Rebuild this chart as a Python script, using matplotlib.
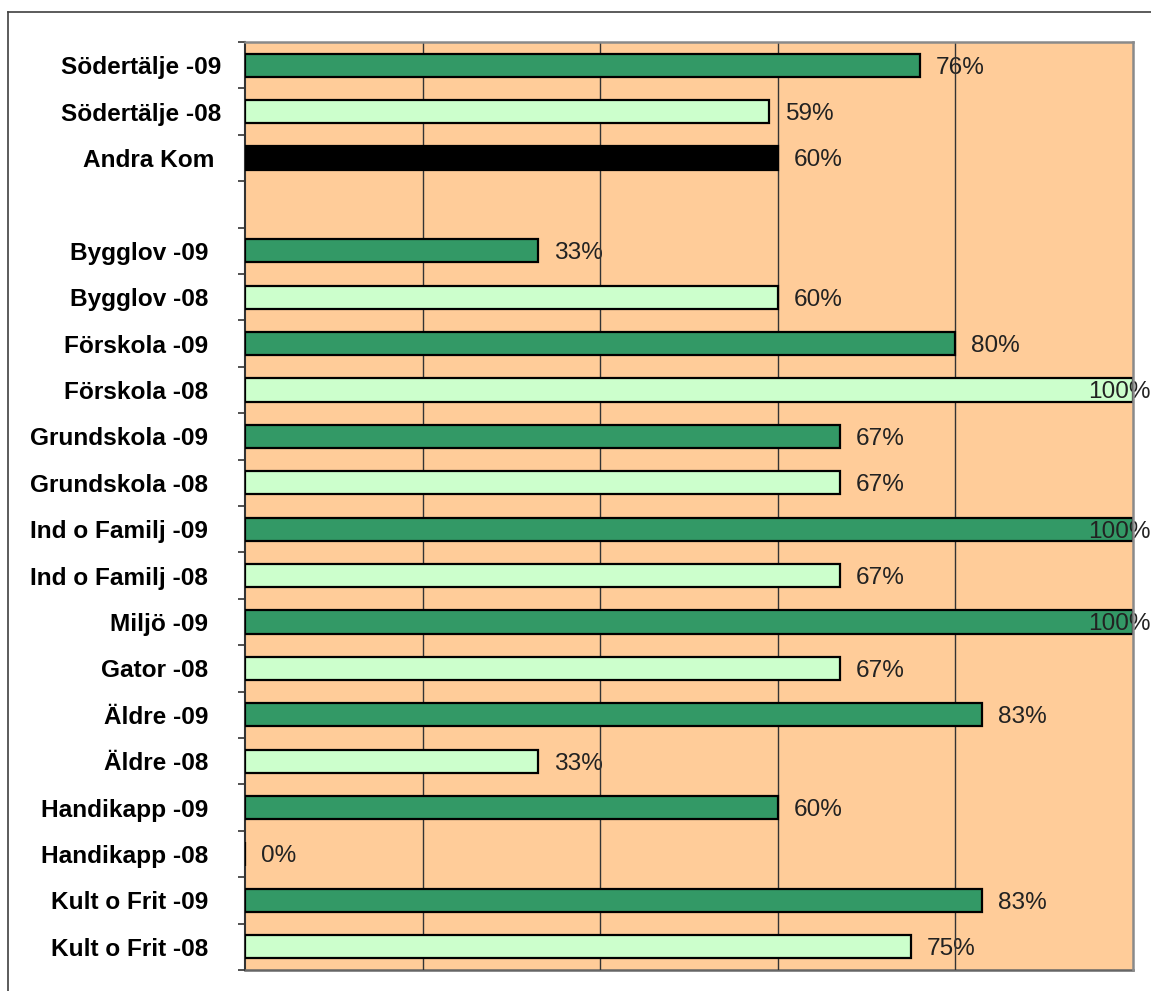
import numpy as np
import matplotlib
matplotlib.use('Agg')
import matplotlib.pyplot as plt
from matplotlib.lines import Line2D

# rows from top to bottom, '' is the empty spacer row
labels = ['Södertälje -09', 'Södertälje -08', 'Andra Kom ', '',
          'Bygglov -09  ', 'Bygglov -08  ', 'Förskola -09  ', 'Förskola -08  ',
          'Grundskola -09  ', 'Grundskola -08  ', 'Ind o Familj -09  ', 'Ind o Familj -08  ',
          'Miljö -09  ', 'Gator -08  ', 'Äldre -09  ', 'Äldre -08  ',
          'Handikapp -09  ', 'Handikapp -08  ', 'Kult o Frit -09  ', 'Kult o Frit -08  ']
values = [76, 59, 60, None,
          33, 60, 80, 100,
          67, 67, 100, 67,
          100, 67, 83, 33,
          60, 0, 83, 75]
kind = ['09', '08', 'other', '',
        '09', '08', '09', '08',
        '09', '08', '09', '08',
        '09', '08', '09', '08',
        '09', '08', '09', '08']

colors = {'09': '#339966', '08': '#CCFFCC', 'other': '#000000', '': 'none'}

W, H = 1151, 991
fig = plt.figure(figsize=(W/100, H/100), dpi=100)
fig.patch.set_facecolor('white')

# outer frame (top and left visible)
fig.add_artist(Line2D([8/W, 8/W], [0, 1-12/H], color='#404040', lw=1.2, transform=fig.transFigure))
fig.add_artist(Line2D([8/W, 1], [1-12/H, 1-12/H], color='#404040', lw=1.2, transform=fig.transFigure))

ax = fig.add_axes([245/W, 1-970/H, (1133-245)/W, (970-42)/H])
ax.set_facecolor('#FFCC99')

y = np.arange(len(labels))
for yi, v, k in zip(y, values, kind):
    if v is None:
        continue
    ax.barh(yi, v, height=0.5, color=colors[k], edgecolor='black', linewidth=1.6, zorder=3)
    tx = min(v + 1.8, 95.0)
    # labels pushed back inside the bar sit on top of it, the rest under the grid
    zo = 4 if tx < v else 2
    ax.text(tx, yi + 0.05, '%d%%' % v, ha='left', va='center', fontsize=17.6,
            color='#222222', family='Liberation Sans', zorder=zo)

ax.set_xlim(0, 100)
ax.set_ylim(len(labels) - 0.5, -0.5)
ax.set_xticks([20, 40, 60, 80])
ax.xaxis.grid(True, color='#333333', linewidth=1.0)
ax.set_axisbelow(False)
ax.tick_params(axis='x', length=0, labelbottom=False)

ax.set_yticks(y)
ax.set_yticklabels(labels, fontsize=17.6, fontweight='bold', family='Liberation Sans')
ax.tick_params(axis='y', which='major', length=0, pad=17)
ax.set_yticks(np.arange(-0.5, len(labels), 1.0), minor=True)
ax.tick_params(axis='y', which='minor', length=5, width=1.2, color='#333333')

ax.spines['left'].set_color('#333333')
ax.spines['left'].set_linewidth(1.5)
ax.spines['bottom'].set_color('#666666')
ax.spines['bottom'].set_linewidth(1.8)
for s in ['top', 'right']:
    ax.spines[s].set_color('#8a8a8a')
    ax.spines[s].set_linewidth(1.8)
    ax.spines[s].set_zorder(5)

fig.savefig('out.png', dpi=100)
